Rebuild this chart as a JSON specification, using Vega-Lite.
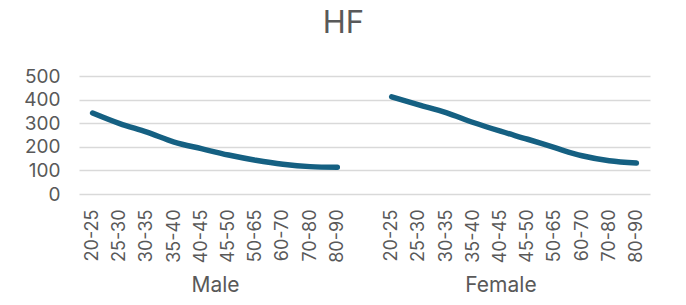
{
  "$schema": "https://vega.github.io/schema/vega-lite/v6.json",
  "width": 571,
  "height": 118,
  "padding": {"left": 23, "top": 8, "right": 38, "bottom": 0},
  "title": {"text": "HF", "fontSize": 31, "fontWeight": "normal", "color": "#595959", "font": "Inter", "anchor": "middle", "dx": -21, "offset": 27},
  "config": {"view": {"stroke": null}, "font": "Inter"},
  "layer": [
    {
      "data": {"values": [
        {"sex": "Male", "key": "Male 20-25", "value": 343},
        {"sex": "Male", "key": "Male 25-30", "value": 298},
        {"sex": "Male", "key": "Male 30-35", "value": 262},
        {"sex": "Male", "key": "Male 35-40", "value": 220},
        {"sex": "Male", "key": "Male 40-45", "value": 192},
        {"sex": "Male", "key": "Male 45-50", "value": 165},
        {"sex": "Male", "key": "Male 50-65", "value": 143},
        {"sex": "Male", "key": "Male 60-70", "value": 126},
        {"sex": "Male", "key": "Male 70-80", "value": 116},
        {"sex": "Male", "key": "Male 80-90", "value": 113},
        {"sex": "Female", "key": "Female 20-25", "value": 412},
        {"sex": "Female", "key": "Female 25-30", "value": 378},
        {"sex": "Female", "key": "Female 30-35", "value": 345},
        {"sex": "Female", "key": "Female 35-40", "value": 303},
        {"sex": "Female", "key": "Female 40-45", "value": 266},
        {"sex": "Female", "key": "Female 45-50", "value": 232},
        {"sex": "Female", "key": "Female 50-65", "value": 196},
        {"sex": "Female", "key": "Female 60-70", "value": 162},
        {"sex": "Female", "key": "Female 70-80", "value": 141},
        {"sex": "Female", "key": "Female 80-90", "value": 131}
      ]},
      "mark": {"type": "line", "interpolate": "monotone", "strokeWidth": 5.5, "strokeCap": "round", "color": "#156082"},
      "encoding": {
        "x": {
          "field": "key", "type": "ordinal",
          "scale": {"domain": ["Male 20-25", "Male 25-30", "Male 30-35", "Male 35-40", "Male 40-45", "Male 45-50", "Male 50-65", "Male 60-70", "Male 70-80", "Male 80-90", "gap", "Female 20-25", "Female 25-30", "Female 30-35", "Female 35-40", "Female 40-45", "Female 45-50", "Female 50-65", "Female 60-70", "Female 70-80", "Female 80-90"]},
          "axis": {"title": null, "labelAngle": -90, "labelFontSize": 18, "labelColor": "#595959", "labelPadding": 15, "domain": false, "ticks": false, "grid": false,
                   "labelExpr": "datum.label == 'gap' ? '' : slice(datum.label, indexof(datum.label, ' ') + 1)"}
        },
        "y": {
          "field": "value", "type": "quantitative",
          "scale": {"domain": [0, 500], "nice": false},
          "axis": {"title": null, "values": [0, 100, 200, 300, 400, 500], "domain": false, "ticks": false, "gridColor": "#d9d9d9", "gridWidth": 1.5, "labelFontSize": 19, "labelColor": "#595959", "labelPadding": 19}
        },
        "detail": {"field": "sex"}
      }
    },
    {
      "data": {"values": [{"group": "Male", "pos": 5}, {"group": "Female", "pos": 15.5}]},
      "mark": {"type": "text", "text": ""},
      "encoding": {
        "x": {
          "field": "pos", "type": "quantitative",
          "scale": {"domain": [0, 21], "nice": false, "zero": false},
          "axis": {"orient": "bottom", "values": [5, 15.5], "labelExpr": "datum.value == 5 ? 'Male' : 'Female'", "title": null, "grid": false, "domain": false, "ticks": false, "labelPadding": 80, "labelFontSize": 21, "labelColor": "#595959"}
        }
      }
    }
  ],
  "resolve": {"scale": {"x": "independent"}, "axis": {"x": "independent"}}
}
